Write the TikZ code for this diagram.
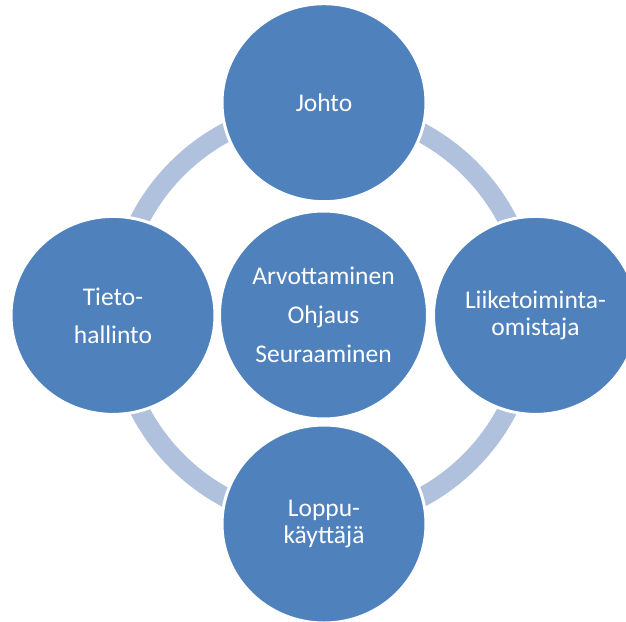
\documentclass[tikz,border=0pt]{standalone}
\usepackage{fontspec}
\setmainfont{Carlito}
\usetikzlibrary{shapes.geometric}
\definecolor{discblue}{HTML}{4F81BD}
\definecolor{ringblue}{HTML}{B0C1DD}
\begin{document}
\begin{tikzpicture}[x=1pt,y=-1pt,
  disc/.style={ellipse, fill=discblue, draw=white, line width=3pt,
    minimum width=204pt, minimum height=198pt, inner sep=0pt,
    text=white, align=center},
  hub/.style={circle, fill=discblue, draw=white, line width=3pt,
    minimum size=208pt, inner sep=0pt, text=white, align=center},
  ring/.style={draw=ringblue, line width=19.5pt}]
  \useasboundingbox (0,0) rectangle (626,621);
  \clip (0,0) rectangle (626,621);

  % background ring linking the outer discs
  \coordinate (mid) at (323.5,315);
  \draw[ring] (mid) circle[radius=207];

  % centre disc
  \node[hub, font=\fontsize{25.5}{39}\selectfont] (core) at (mid)
    {Arvottaminen\\Ohjaus\\Seuraaminen};

  % outer discs
  \node[disc, font=\fontsize{25.5}{29}\selectfont] (johto) at (324,102.7) {Johto};
  \node[disc, font=\fontsize{25.5}{38}\selectfont] (tieto) at (113,315.4) {Tieto-\\hallinto};
  \node[disc, font=\fontsize{25.5}{27.5}\selectfont] (liike) at (535.5,315.4) {Liiketoiminta-\\omistaja};
  \node[disc, font=\fontsize{25.5}{27}\selectfont] (loppu) at (324,524) {Loppu-\\käyttäjä};
\end{tikzpicture}
\end{document}
